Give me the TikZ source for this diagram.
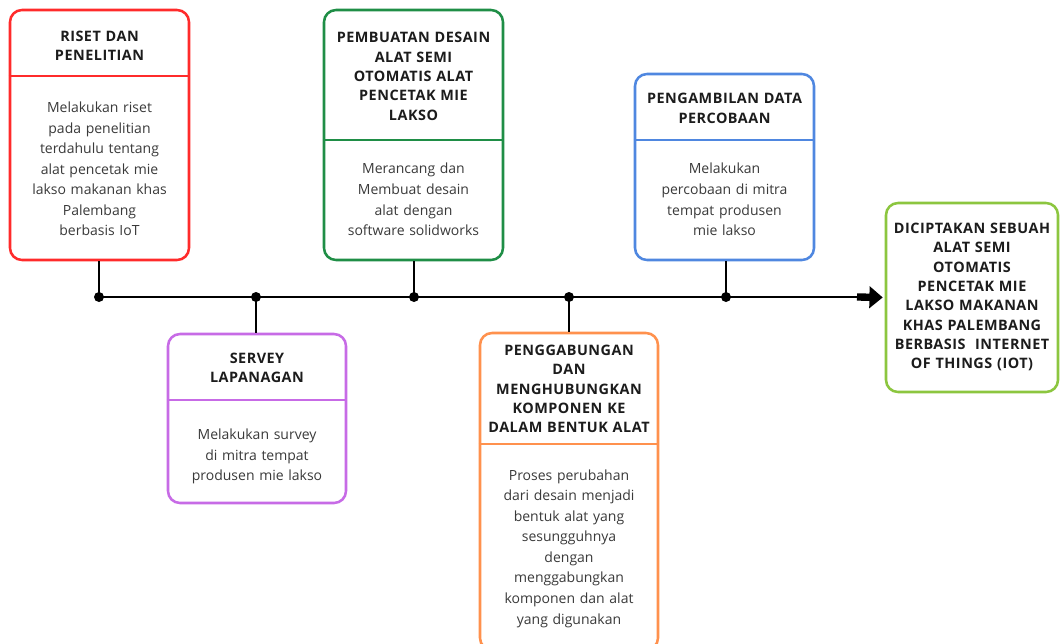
\documentclass[tikz,border=0pt]{standalone}
\usepackage{fontspec}
\setmainfont{Open Sans}
\newfontfamily\ttlfont[LetterSpace=3.5]{Open Sans}
\usetikzlibrary{arrows.meta}
\definecolor{cred}{HTML}{FF2B2B}
\definecolor{cgreen}{HTML}{1F8E46}
\definecolor{cblue}{HTML}{4F87E0}
\definecolor{cpurple}{HTML}{C76BE6}
\definecolor{corange}{HTML}{FF914D}
\definecolor{clime}{HTML}{8CC63F}
\definecolor{ctitle}{HTML}{1C1C1C}
\definecolor{cbody}{HTML}{3A3A3A}
\tikzset{
  card/.style={draw=#1, line width=1.9pt, rounded corners=9pt, inner sep=0pt, fill=white},
  divider/.style={draw=#1, line width=1.7pt},
  ttl/.style={text=ctitle, font=\ttlfont\bfseries\fontsize{10.8}{14.5}\selectfont, align=center, text width=130pt, inner sep=0pt},
  bdy/.style={text=cbody, font=\fontsize{10.5}{15.4}\selectfont, align=center, text width=130pt, inner sep=0pt},
  conn/.style={draw=black, line width=1.6pt},
  dot/.style={circle, fill=black, minimum size=7.5pt, inner sep=0pt}
}
\begin{document}
\begin{tikzpicture}[x=0.75pt,y=-0.75pt]
\useasboundingbox (0,0) rectangle (1060,643);
% boxes
\node[card=cred, minimum width=134.25pt, minimum height=187.5pt] (red) at (99.5,135) {};
\node[card=cgreen, minimum width=134.25pt, minimum height=187.5pt] (green) at (413.5,135) {};
\node[card=cblue, minimum width=134.25pt, minimum height=139.5pt] (blue) at (724.5,167) {};
\node[card=clime, minimum width=129pt, minimum height=141.75pt] (final) at (972,297.5) {};
\node[card=cpurple, minimum width=133.5pt, minimum height=126.75pt] (purple) at (257,418.5) {};
\node[card=corange, minimum width=133.5pt, minimum height=237.75pt] (orange) at (569,491.5) {};
% dividers
\draw[divider=cred] (red.west |- 0,76) -- (red.east |- 0,76);
\draw[divider=cgreen] (green.west |- 0,140) -- (green.east |- 0,140);
\draw[divider=cblue] (blue.west |- 0,140) -- (blue.east |- 0,140);
\draw[divider=cpurple] (purple.west |- 0,400) -- (purple.east |- 0,400);
\draw[divider=corange] (orange.west |- 0,444) -- (orange.east |- 0,444);
% titles
\node[ttl] (redt) at (99.5,45.5) {RISET DAN\\PENELITIAN};
\node[ttl] (greent) at (413.5,76.5) {PEMBUATAN DESAIN\\ALAT SEMI\\OTOMATIS ALAT\\PENCETAK MIE\\LAKSO};
\node[ttl] (bluet) at (724.5,108.5) {PENGAMBILAN DATA\\PERCOBAAN};
\node[ttl] (finalt) at (972,297) {DICIPTAKAN SEBUAH\\ALAT SEMI\\OTOMATIS\\PENCETAK MIE\\LAKSO MAKANAN\\KHAS PALEMBANG\\BERBASIS\ \ INTERNET\\OF THINGS (IOT)};
\node[ttl] (purplet) at (257,368) {SERVEY\\LAPANAGAN};
\node[ttl] (oranget) at (569,389) {PENGGABUNGAN\\DAN\\MENGHUBUNGKAN\\KOMPONEN KE\\DALAM BENTUK ALAT};
% bodies
\node[bdy] (redb) at (99.5,169) {Melakukan riset\\pada penelitian\\terdahulu tentang\\alat pencetak mie\\lakso makanan khas\\Palembang\\berbasis IoT};
\node[bdy] (greenb) at (413.5,199.5) {Merancang dan\\Membuat desain\\alat dengan\\software solidworks};
\node[bdy] (blueb) at (724.5,199.5) {Melakukan\\percobaan di mitra\\tempat produsen\\mie lakso};
\node[bdy] (purpleb) at (257,456.5) {Melakukan survey\\di mitra tempat\\produsen mie lakso};
\node[bdy] (orangeb) at (569,548.5) {Proses perubahan\\dari desain menjadi\\bentuk alat yang\\sesungguhnya\\dengan\\menggabungkan\\komponen dan alat\\yang digunakan};
% timeline
\coordinate (j1) at (99,297);
\coordinate (j2) at (256,297);
\coordinate (j3) at (414,297);
\coordinate (j4) at (569,297);
\coordinate (j5) at (726,297);
\coordinate (ah) at (857,297);
\draw[conn, line width=2pt] (j1) -- (ah);
\draw[line width=5.5pt, -{Triangle[length=10pt,width=16pt]}, shorten >=1.5pt] (ah) -- (final.west);
\draw[conn] (red.south -| j1) -- (j1);
\draw[conn] (green.south -| j3) -- (j3);
\draw[conn] (blue.south -| j5) -- (j5);
\draw[conn] (j2) -- (purple.north -| j2);
\draw[conn] (j4) -- (orange.north -| j4);
\foreach \j in {j1,j2,j3,j4,j5} \node[dot] at (\j) {};
\end{tikzpicture}
\end{document}
